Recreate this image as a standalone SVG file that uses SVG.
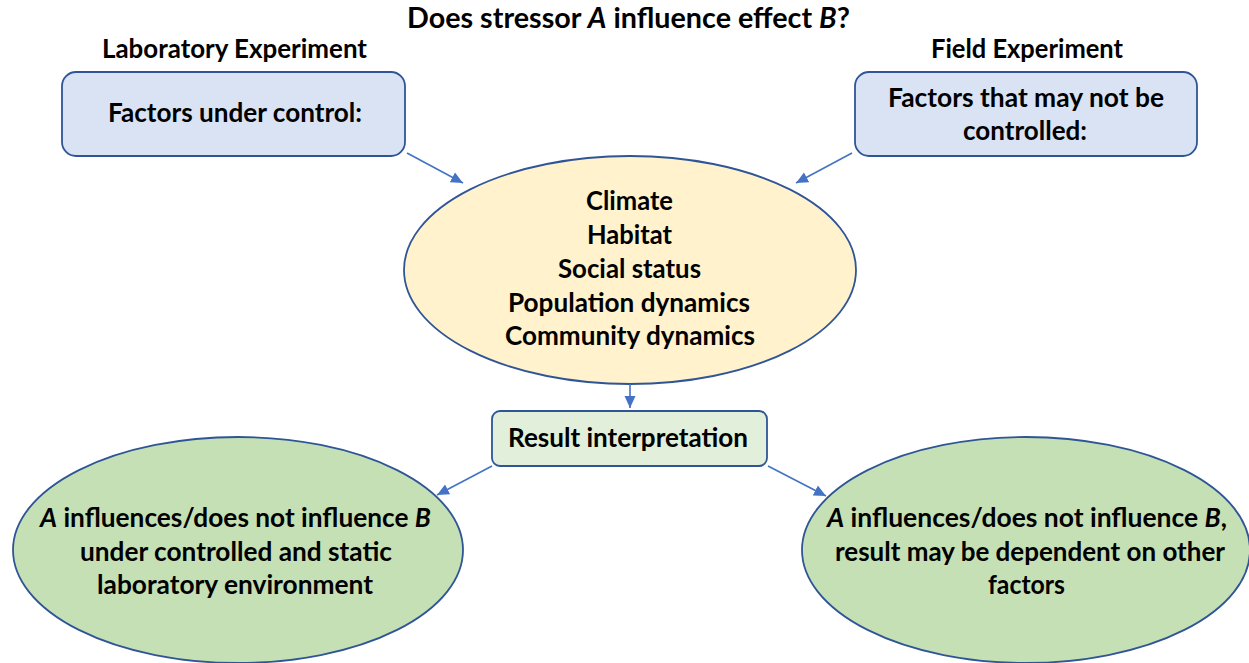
<svg xmlns="http://www.w3.org/2000/svg" width="1249" height="663" viewBox="0 0 1249 663">
  <defs>
    <style>
      text { font-family: Lato, "Open Sans", "Liberation Sans", sans-serif; font-weight: bold; font-size: 26px; fill: #000; text-anchor: middle; }
      .it { font-style: italic; }
      .ttl { font-size: 28px; }
      .box { stroke: #2f5597; stroke-width: 1.8; }
      .blue { fill: #dae3f3; }
      .yellow { fill: #fff2cc; }
      .lgreen { fill: #e2efda; }
      .green { fill: #c5e0b4; }
      .conn { stroke: #4472c4; stroke-width: 1.6; fill: none; marker-end: url(#ah); }
    </style>
    <marker id="ah" viewBox="0 0 12 12" refX="12" refY="6" markerWidth="12" markerHeight="12" markerUnits="userSpaceOnUse" orient="auto">
      <path d="M0,0.5 L12,6 L0,11.5 z" fill="#4472c4"/>
    </marker>
  </defs>
  <rect width="1249" height="663" fill="#ffffff"/>

  <g id="title">
    <text class="ttl" x="628.5" y="28" textLength="443" lengthAdjust="spacingAndGlyphs">Does stressor <tspan class="it">A</tspan> influence effect <tspan class="it">B</tspan>?</text>
  </g>
  <g id="lab-header">
    <text x="234.5" y="58" textLength="265" lengthAdjust="spacingAndGlyphs">Laboratory Experiment</text>
  </g>
  <g id="field-header">
    <text x="1027" y="58" textLength="192" lengthAdjust="spacingAndGlyphs">Field Experiment</text>
  </g>

  <g id="lab-box">
    <rect class="box blue" x="62" y="72" width="343" height="84" rx="14"/>
    <text x="235" y="122" textLength="254" lengthAdjust="spacingAndGlyphs">Factors under control:</text>
  </g>
  <g id="field-box">
    <rect class="box blue" x="855" y="72" width="342" height="84" rx="14"/>
    <text x="1026" y="107" textLength="276" lengthAdjust="spacingAndGlyphs">Factors that may not be</text>
    <text x="1025" y="140" textLength="124" lengthAdjust="spacingAndGlyphs">controlled:</text>
  </g>

  <g id="factors">
    <ellipse class="box yellow" cx="630" cy="270" rx="226" ry="114"/>
    <text x="629.5" y="210" textLength="87" lengthAdjust="spacingAndGlyphs">Climate</text>
    <text x="629.5" y="244" textLength="85" lengthAdjust="spacingAndGlyphs">Habitat</text>
    <text x="629.5" y="278" textLength="143" lengthAdjust="spacingAndGlyphs">Social status</text>
    <text x="629" y="312" textLength="242" lengthAdjust="spacingAndGlyphs">Population dynamics</text>
    <text x="630" y="345" textLength="250" lengthAdjust="spacingAndGlyphs">Community dynamics</text>
  </g>

  <g id="result">
    <rect class="box lgreen" x="492" y="411" width="275" height="55" rx="8"/>
    <text x="628" y="447" textLength="240" lengthAdjust="spacingAndGlyphs">Result interpretation</text>
  </g>

  <g id="lab-outcome">
    <ellipse class="box green" cx="238" cy="550" rx="225" ry="113"/>
    <text x="235.5" y="527" textLength="391" lengthAdjust="spacingAndGlyphs"><tspan class="it">A</tspan> influences/does not influence <tspan class="it">B</tspan></text>
    <text x="236" y="561" textLength="312" lengthAdjust="spacingAndGlyphs">under controlled and static</text>
    <text x="235" y="594" textLength="276" lengthAdjust="spacingAndGlyphs">laboratory environment</text>
  </g>

  <g id="field-outcome">
    <ellipse class="box green" cx="1026" cy="550" rx="224" ry="113"/>
    <text x="1027" y="527" textLength="400" lengthAdjust="spacingAndGlyphs"><tspan class="it">A</tspan> influences/does not influence <tspan class="it">B</tspan>,</text>
    <text x="1030" y="561" textLength="390" lengthAdjust="spacingAndGlyphs">result may be dependent on other</text>
    <text x="1026.5" y="594" textLength="77" lengthAdjust="spacingAndGlyphs">factors</text>
  </g>

  <g id="connectors">
    <line class="conn" x1="407" y1="153" x2="463" y2="183"/>
    <line class="conn" x1="852" y1="153" x2="796" y2="183"/>
    <line class="conn" x1="630" y1="384" x2="630" y2="408"/>
    <line class="conn" x1="492" y1="466" x2="437" y2="495"/>
    <line class="conn" x1="768" y1="466" x2="826" y2="496"/>
  </g>
</svg>
